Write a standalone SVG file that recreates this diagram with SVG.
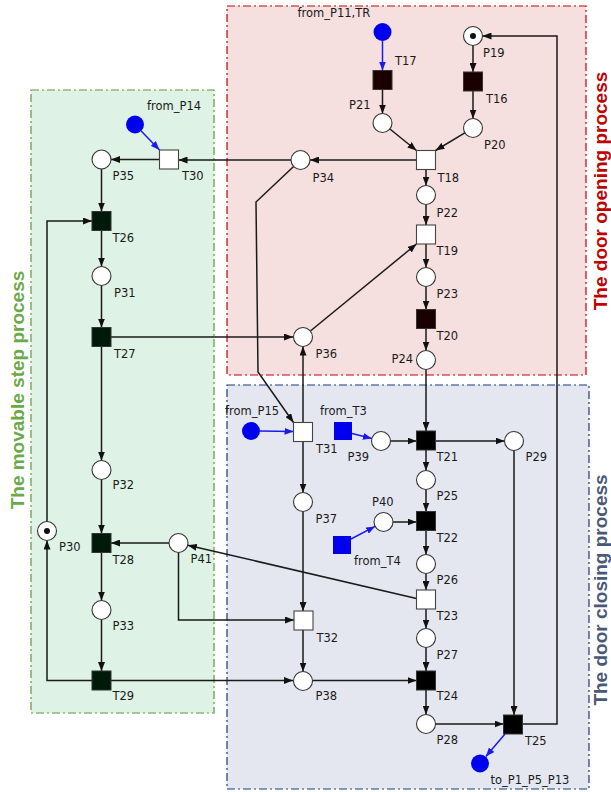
<svg xmlns="http://www.w3.org/2000/svg" width="611" height="792" viewBox="0 0 611 792">
<style>
.lbl{font-family:"DejaVu Sans",Verdana,sans-serif;font-size:11.5px;fill:#1a1a1a}
.pl{fill:#fff;stroke:#333;stroke-width:1.1}
.tw{fill:#fff;stroke:#444;stroke-width:1.1}
.tr{fill:#1a0000;stroke:#333;stroke-width:1}
.tg{fill:#001a0a;stroke:#333;stroke-width:1}
.tb{fill:#000;stroke:#333;stroke-width:1}
.src{fill:#0000ee}
.e{fill:none;stroke:#1a1a1a;stroke-width:1.5;marker-end:url(#ah)}
.eb{fill:none;stroke:#1a1aee;stroke-width:1.5;marker-end:url(#abl)}
.tok{fill:#111}
.title{font-family:"Liberation Sans",Arial,sans-serif;font-size:19px;font-weight:bold;text-anchor:middle}
</style>
<defs>
<marker id="ah" markerUnits="userSpaceOnUse" markerWidth="9" markerHeight="7" refX="9" refY="3.5" orient="auto"><path d="M0,0 L9,3.5 L0,7 z" fill="#111"/></marker>
<marker id="abl" markerUnits="userSpaceOnUse" markerWidth="9" markerHeight="7" refX="9" refY="3.5" orient="auto"><path d="M0,0 L9,3.5 L0,7 z" fill="#1a1aee"/></marker>
</defs>
<g id="regions">
<rect x="227" y="6" width="359" height="369" fill="#f5dfdf" stroke="#cc0000" stroke-width="1.2" stroke-dasharray="8,3,2,3"/>
<rect x="31" y="90" width="183" height="623" fill="#dff2e6" stroke="#5f9a3a" stroke-width="1.2" stroke-dasharray="8,3,2,3"/>
<rect x="227" y="385" width="362" height="404" fill="#e4e7f0" stroke="#1a3a7a" stroke-width="1.2" stroke-dasharray="8,3,2,3"/>
<text class="title" transform="translate(607,191) rotate(-90)" fill="#c00000">The door opening process</text>
<text class="title" transform="translate(607,590) rotate(-90)" fill="#4a5878">The door closing process</text>
<text class="title" transform="translate(24,390) rotate(-90)" fill="#6aaa48">The movable step process</text>
</g>
<g id="connectors">
<path class="eb" d="M382.5,41 L382.5,70.5"/>
<path class="e" d="M382.5,89.5 L382.5,113.5"/>
<path class="e" d="M389.9,129 L416.5,150.5"/>
<path class="e" d="M473,45.5 L473,72"/>
<path class="e" d="M473,91 L473,118.5"/>
<path class="e" d="M464.8,132.9 L435.5,150.5"/>
<path class="e" d="M416.5,160 L310,160"/>
<path class="e" d="M291,160 L178.5,160"/>
<path class="e" d="M159.5,159.5 L111,159.5"/>
<path class="eb" d="M141.2,131 L159.5,150"/>
<path class="e" d="M101.5,169 L101.5,211.5"/>
<path class="e" d="M101.5,230.5 L101.5,266.5"/>
<path class="e" d="M101.5,285.5 L101.5,327.5"/>
<path class="e" d="M101.5,346.5 L101.5,460.5"/>
<path class="e" d="M111,337 L293,337"/>
<path class="e" d="M310.4,331 L416.5,244"/>
<path class="e" d="M426,169.5 L426,185.5"/>
<path class="e" d="M426,204.5 L426,225"/>
<path class="e" d="M426,244 L426,267.5"/>
<path class="e" d="M426,286.5 L426,309.5"/>
<path class="e" d="M426,328.5 L426,350.5"/>
<path class="e" d="M426,369.5 L426,431"/>
<path class="e" d="M293.6,166.5 L256,202 L258,372 L293.5,422.5"/>
<path class="eb" d="M260,431 L293.5,431.5"/>
<path class="e" d="M303,422.5 L303,346.5"/>
<path class="e" d="M303,441.5 L303,492.5"/>
<path class="eb" d="M352,433.5 L371.8,438.6"/>
<path class="e" d="M390.5,441 L416.5,441"/>
<path class="e" d="M435.5,441 L504.5,441"/>
<path class="e" d="M426,450 L426,470.5"/>
<path class="e" d="M426,489.5 L426,511.5"/>
<path class="e" d="M426,530.5 L426,554.5"/>
<path class="e" d="M426,573.5 L426,590"/>
<path class="e" d="M426,609 L426,628.5"/>
<path class="e" d="M426,647.5 L426,671"/>
<path class="e" d="M426,690 L426,714.5"/>
<path class="e" d="M393,522 L416.5,522"/>
<path class="eb" d="M351,539 L375.1,526.4"/>
<path class="e" d="M416.5,598.5 L187.8,545.2"/>
<path class="e" d="M101.5,479.5 L101.5,533.5"/>
<path class="e" d="M169,543 L111,543"/>
<path class="e" d="M101.5,552.5 L101.5,600.5"/>
<path class="e" d="M101.5,619.5 L101.5,671"/>
<path class="e" d="M178.5,552.5 L178.5,620 L294,620"/>
<path class="e" d="M303,511.5 L303,611"/>
<path class="e" d="M303,630 L303,671.5"/>
<path class="e" d="M111,680.5 L293,680.5"/>
<path class="e" d="M92,680.5 L47,680.5 L47,540.5"/>
<path class="e" d="M47,521.5 L47,221 L92,221"/>
<path class="e" d="M312.5,680.5 L416.5,680.5"/>
<path class="e" d="M435.5,724 L503.5,724"/>
<path class="e" d="M514,450.5 L514,715"/>
<path class="eb" d="M505,734 L485.8,756.6"/>
<path class="e" d="M523,724 L557,724 L557,36 L482.5,36"/>
</g>
<g id="P19"><circle class="pl" cx="473" cy="36" r="9.5"/><circle class="tok" cx="473" cy="36" r="3"/><text class="lbl" x="483" y="57">P19</text></g>
<g id="P20"><circle class="pl" cx="473" cy="128" r="9.5"/><text class="lbl" x="484" y="149">P20</text></g>
<g id="P21"><circle class="pl" cx="382.5" cy="123" r="9.5"/><text class="lbl" x="349" y="109">P21</text></g>
<g id="P22"><circle class="pl" cx="426" cy="195" r="9.5"/><text class="lbl" x="436.5" y="216.5">P22</text></g>
<g id="P23"><circle class="pl" cx="426" cy="277" r="9.5"/><text class="lbl" x="436.5" y="297.5">P23</text></g>
<g id="P24"><circle class="pl" cx="426" cy="360" r="9.5"/><text class="lbl" x="391.5" y="362.5">P24</text></g>
<g id="P25"><circle class="pl" cx="426" cy="480" r="9.5"/><text class="lbl" x="436.5" y="500">P25</text></g>
<g id="P26"><circle class="pl" cx="426" cy="564" r="9.5"/><text class="lbl" x="436.5" y="584">P26</text></g>
<g id="P27"><circle class="pl" cx="426" cy="638" r="9.5"/><text class="lbl" x="436.5" y="659">P27</text></g>
<g id="P28"><circle class="pl" cx="426" cy="724" r="9.5"/><text class="lbl" x="436.5" y="744">P28</text></g>
<g id="P29"><circle class="pl" cx="514" cy="441" r="9.5"/><text class="lbl" x="525.5" y="461">P29</text></g>
<g id="P30"><circle class="pl" cx="47" cy="531" r="9.5"/><circle class="tok" cx="47" cy="531" r="3"/><text class="lbl" x="59" y="551">P30</text></g>
<g id="P31"><circle class="pl" cx="101.5" cy="276" r="9.5"/><text class="lbl" x="114" y="296.5">P31</text></g>
<g id="P32"><circle class="pl" cx="101.5" cy="470" r="9.5"/><text class="lbl" x="112.5" y="488.5">P32</text></g>
<g id="P33"><circle class="pl" cx="101.5" cy="610" r="9.5"/><text class="lbl" x="112.5" y="630">P33</text></g>
<g id="P34"><circle class="pl" cx="300.5" cy="160" r="9.5"/><text class="lbl" x="312.5" y="182">P34</text></g>
<g id="P35"><circle class="pl" cx="101.5" cy="159.5" r="9.5"/><text class="lbl" x="112.5" y="180">P35</text></g>
<g id="P36"><circle class="pl" cx="303" cy="337" r="9.5"/><text class="lbl" x="315.5" y="357.5">P36</text></g>
<g id="P37"><circle class="pl" cx="303" cy="502" r="9.5"/><text class="lbl" x="315.5" y="522.5">P37</text></g>
<g id="P38"><circle class="pl" cx="303" cy="681" r="9.5"/><text class="lbl" x="315.5" y="700">P38</text></g>
<g id="P39"><circle class="pl" cx="381" cy="441" r="9.5"/><text class="lbl" x="347.5" y="460.5">P39</text></g>
<g id="P40"><circle class="pl" cx="383.5" cy="522" r="9.5"/><text class="lbl" x="372" y="505.5">P40</text></g>
<g id="P41"><circle class="pl" cx="178.5" cy="543" r="9.5"/><text class="lbl" x="190.5" y="562.5">P41</text></g>
<g id="T16"><rect class="tr" x="463.5" y="72" width="19" height="19"/><text class="lbl" x="486" y="103">T16</text></g>
<g id="T17"><rect class="tr" x="373" y="70.5" width="19" height="19"/><text class="lbl" x="395" y="65">T17</text></g>
<g id="T18"><rect class="tw" x="416.5" y="150.5" width="19" height="19"/><text class="lbl" x="437.5" y="181.5">T18</text></g>
<g id="T19"><rect class="tw" x="416.5" y="225" width="19" height="19"/><text class="lbl" x="436.5" y="255">T19</text></g>
<g id="T20"><rect class="tr" x="416.5" y="309.5" width="19" height="19"/><text class="lbl" x="436.5" y="339.5">T20</text></g>
<g id="T21"><rect class="tb" x="416.5" y="431" width="19" height="19"/><text class="lbl" x="436.5" y="461">T21</text></g>
<g id="T22"><rect class="tb" x="416.5" y="511.5" width="19" height="19"/><text class="lbl" x="436.5" y="541.5">T22</text></g>
<g id="T23"><rect class="tw" x="416.5" y="590" width="19" height="19"/><text class="lbl" x="436.5" y="620">T23</text></g>
<g id="T24"><rect class="tb" x="416.5" y="671" width="19" height="19"/><text class="lbl" x="436.5" y="700">T24</text></g>
<g id="T25"><rect class="tb" x="503.5" y="715" width="19" height="19"/><text class="lbl" x="525" y="745">T25</text></g>
<g id="T26"><rect class="tg" x="92" y="211.5" width="19" height="19"/><text class="lbl" x="112.5" y="241.5">T26</text></g>
<g id="T27"><rect class="tg" x="92" y="327.5" width="19" height="19"/><text class="lbl" x="114" y="357.5">T27</text></g>
<g id="T28"><rect class="tg" x="92" y="533.5" width="19" height="19"/><text class="lbl" x="112.5" y="563.5">T28</text></g>
<g id="T29"><rect class="tg" x="92" y="671" width="19" height="19"/><text class="lbl" x="112.5" y="700">T29</text></g>
<g id="T30"><rect class="tw" x="159.5" y="150" width="19" height="19"/><text class="lbl" x="182" y="180">T30</text></g>
<g id="T31"><rect class="tw" x="293.5" y="422.5" width="19" height="19"/><text class="lbl" x="316" y="452.5">T31</text></g>
<g id="T32"><rect class="tw" x="294" y="611" width="19" height="19"/><text class="lbl" x="316.5" y="641.5">T32</text></g>
<g id="from_P11_TR"><circle class="src" cx="382.5" cy="32" r="9"/><text class="lbl" x="297.5" y="16.5">from_P11,TR</text></g>
<g id="from_P14"><circle class="src" cx="135" cy="124.5" r="9"/><text class="lbl" x="147" y="110">from_P14</text></g>
<g id="from_P15"><circle class="src" cx="251" cy="431" r="9"/><text class="lbl" x="225" y="414.5">from_P15</text></g>
<g id="from_T3"><rect class="src" x="334" y="422" width="18" height="18"/><text class="lbl" x="320" y="415">from_T3</text></g>
<g id="from_T4"><rect class="src" x="333" y="536" width="18" height="18"/><text class="lbl" x="354" y="565">from_T4</text></g>
<g id="to_P1_P5_P13"><circle class="src" cx="480" cy="763.5" r="9"/><text class="lbl" x="490.5" y="783.5">to_P1_P5_P13</text></g>
</svg>
